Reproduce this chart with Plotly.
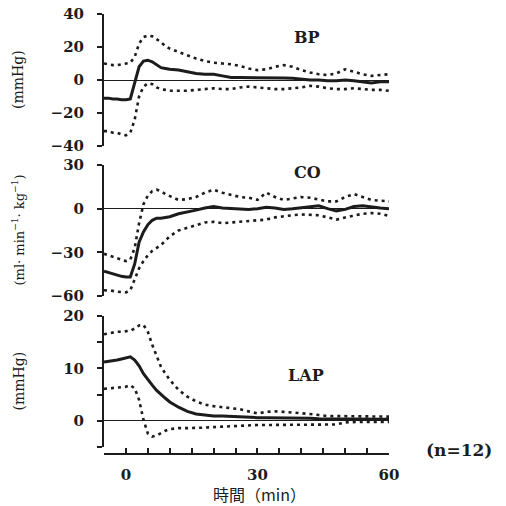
import plotly.graph_objects as go

# ---- data ----
time_min = [-5, -4, -3, -2, -1, 0, 1, 2, 3, 4, 5, 6, 7, 8, 9, 10, 12, 14, 16, 18, 20,
            22, 24, 26, 28, 30, 32, 34, 36, 38, 40, 42, 44, 46, 48, 50, 52, 54, 56, 58, 60]

bp_mean = [-11, -11, -11.5, -11.5, -12, -12, -11.5, -2, 8, 11.5, 12, 11, 9, 7.5, 7, 6.5, 6, 5, 4,
           3.5, 3.5, 2.5, 1.5, 1.5, 1.5, 1.5, 1.5, 1.5, 1.2, 1, 0.5, 0, 0, -0.5, -0.5, 0, -0.5,
           -1, -1.8, -1, -1]
bp_upper = [10, 9.5, 9, 9, 9.5, 10, 10.5, 14, 22, 26, 27, 26.5, 25, 23, 20.5, 19, 17, 15, 13,
            11.5, 10.5, 10, 9.5, 8.5, 7, 6, 6.5, 8, 9, 8, 6, 4.5, 3.5, 3, 4, 6.5, 5, 3.5, 2.5,
            3, 3.5]
bp_lower = [-31, -31, -32, -32, -33, -33.5, -32, -24, -10, -4, -2, -2.5, -4.5, -5.5, -6, -6.5,
            -6.5, -6.5, -6, -5.5, -5, -5.5, -5.5, -4.5, -4, -4.5, -5, -5.5, -5.5, -5, -4.5,
            -3.5, -4, -5, -5.5, -5.5, -5, -5.5, -6, -6, -6.5]

co_mean = [-43, -44, -45, -46, -46.5, -47, -47, -38, -23, -16, -11, -8, -6.5, -6.5, -6, -5.5,
           -3.5, -2.5, -1, 0.5, 1.5, 0.5, 0, 0, -0.5, 0, 1, 0.5, -0.5, 0, 0.5, 1.5, 2, 0, -1.5,
           -0.5, 1.5, 2, 1, 0.5, 0]
co_upper = [-31, -32, -33, -34, -35, -36, -35, -27, -10, 3, 9, 12, 13, 12, 10, 8.5, 6, 6.5, 8,
            11, 13, 11, 9.5, 8, 7.5, 6, 11, 8, 6, 7, 8, 7.5, 6, 5, 5, 8, 10, 8, 6, 5.5, 5]
co_lower = [-56, -56, -56.5, -57, -57, -57.5, -56, -49, -41, -36, -32, -29, -27, -25, -22, -19,
            -15, -13, -11, -9.5, -9, -10, -9.5, -9, -9, -8.5, -7.5, -6, -5, -4.5, -4, -4, -4.5,
            -6, -7.5, -6, -4.5, -3.5, -3, -3.5, -5]

lap_mean = [11.2, 11.3, 11.5, 11.6, 11.8, 12, 12.2, 11.6, 10.5, 9, 7.8, 6.8, 5.8, 5, 4.3, 3.6,
            2.6, 1.8, 1.3, 1.1, 0.9, 0.9, 0.8, 0.8, 0.7, 0.6, 0.6, 0.6, 0.5, 0.5, 0.5, 0.5, 0.4,
            0.4, 0.4, 0.3, 0.3, 0.3, 0.3, 0.3, 0.3]
lap_upper = [16.5, 16.7, 16.9, 17, 17, 17.1, 17.2, 17.6, 18.2, 18.3, 17, 14.5, 12.2, 10.3, 9,
             7.8, 5.9, 4.6, 3.7, 3.1, 2.8, 2.6, 2.5, 2.2, 1.8, 1.4, 1.7, 1.8, 1.7, 1.6, 1.5, 1.3,
             1.1, 0.9, 0.9, 0.9, 0.8, 0.8, 0.8, 0.8, 0.8]
lap_lower = [6.1, 6.2, 6.3, 6.4, 6.4, 6.5, 6.8, 6.2, 4, 0.2, -2.4, -3, -2.8, -2.3, -1.9, -1.6,
             -1.4, -1.4, -1.4, -1.3, -1.2, -1.1, -1, -0.9, -0.8, -0.8, -0.8, -0.8, -0.8, -0.8,
             -0.8, -0.7, -0.7, -0.7, -0.7, -0.3, -0.2, -0.2, -0.2, -0.2, -0.2]

panel_names = ["BP", "CO", "LAP"]
panel_series = [(bp_mean, bp_upper, bp_lower), (co_mean, co_upper, co_lower),
                (lap_mean, lap_upper, lap_lower)]
y_titles = ["(mmHg)", "(ml· min<sup>−1</sup>· kg<sup>−1</sup>)", "(mmHg)"]
y_title_sizes = [14, 13, 14]
x_tick_vals = list(range(-5, 61, 5))
x_tick_text = [str(v) if v in (0, 30, 60) else "" for v in x_tick_vals]

# ---- styling ----
INK = "#1c1c1c"
SERIF = "DejaVu Serif"
W, H = 506, 506
OFF = 8                      # page body offset of the rendered figure
PW, PH = 285, 440            # plot area size in pixels
ML, MT = 104 - OFF, 14 - OFF
MR, MB = W - ML - PW, H - MT - PH

def py(pix):  # target screen row -> paper y
    return (MT + PH - (pix - OFF)) / PH

def px(pix):  # target screen column -> paper x
    return (pix - OFF - ML) / PW

domains = [(py(146), py(14)), (py(296), py(165)), (py(447), py(316))]
y_ranges = [(-40, 40), (-60, 30), (-5, 20)]
y_ticks = [([-40, -20, 0, 20, 40], ["−40", "−20", "0", "20", "40"]),
           ([-60, -30, 0, 30], ["−60", "−30", "0", "30"]),
           ([-5, 0, 5, 10, 15, 20], ["", "0", "", "10", "", "20"])]
name_pos = [(41.4, 26), (41.4, 25), (41, 8.6)]

fig = go.Figure()
layout = dict(
    width=W, height=H, margin=dict(l=ML, r=MR, t=MT, b=MB, autoexpand=False),
    paper_bgcolor="white", plot_bgcolor="white", showlegend=False,
    font=dict(family=SERIF, color=INK),
)
annotations = []
tickfont = dict(family=SERIF, size=15, weight="bold", color=INK)
for i in range(3):
    sfx = "" if i == 0 else str(i + 1)
    xa, ya = "x" + sfx, "y" + sfx
    mean, upper, lower = panel_series[i]
    for vals, dash, w in ((upper, "3px,4px", 2.6), (lower, "3px,4px", 2.6), (mean, "solid", 3)):
        fig.add_trace(go.Scatter(x=time_min, y=vals, mode="lines", xaxis=xa, yaxis=ya,
                                 line=dict(color=INK, width=w, dash=dash), hoverinfo="skip"))
    is_bottom = i == 2
    xdef = dict(
        range=[-5, 60], domain=[0, 1], automargin=False,
        anchor="free" if is_bottom else ya,
        showline=is_bottom, linecolor=INK, linewidth=2,
        tickvals=x_tick_vals, ticktext=x_tick_text, ticks="inside" if is_bottom else "",
        ticklen=5, tickwidth=2, tickcolor=INK, showticklabels=is_bottom,
        ticklabelstandoff=7, ticklabeloverflow="allow",
        tickfont=tickfont, showgrid=False, zeroline=False,
    )
    if is_bottom:
        xdef["position"] = 0
    layout["xaxis" + sfx] = xdef
    layout["yaxis" + sfx] = dict(
        range=list(y_ranges[i]), domain=list(domains[i]), anchor=xa, automargin=False,
        showline=True, linecolor=INK, linewidth=2,
        tickvals=y_ticks[i][0], ticktext=y_ticks[i][1], ticks="outside", ticklen=5,
        tickwidth=2, tickcolor=INK, ticklabelstandoff=10, ticklabeloverflow="allow",
        tickfont=tickfont,
        showgrid=False, zeroline=True, zerolinecolor=INK, zerolinewidth=1.2,
    )
    annotations.append(dict(x=name_pos[i][0], y=name_pos[i][1], xref=xa, yref=ya,
                            text=panel_names[i], showarrow=False,
                            xanchor="center", yanchor="middle",
                            font=dict(family=SERIF, size=16, weight="bold", color=INK)))
    annotations.append(dict(x=px(18), y=sum(domains[i]) / 2,
                            xref="paper", yref="paper", text=y_titles[i], textangle=-90,
                            xanchor="center", yanchor="middle", showarrow=False,
                            font=dict(family=SERIF, size=y_title_sizes[i], color=INK)))

annotations.append(dict(x=px(459), y=py(450), xref="paper", yref="paper",
                        text="(n=12)", showarrow=False, xanchor="center", yanchor="middle",
                        font=dict(family=SERIF, size=17, weight="bold", color=INK)))
annotations.append(dict(x=px(259), y=py(494), xref="paper", yref="paper",
                        text="時間（min）", showarrow=False, xanchor="center", yanchor="middle",
                        font=dict(family="Noto Sans CJK JP", size=16, color=INK)))
layout["annotations"] = annotations
fig.update_layout(**layout)
fig.write_html("out.html")
